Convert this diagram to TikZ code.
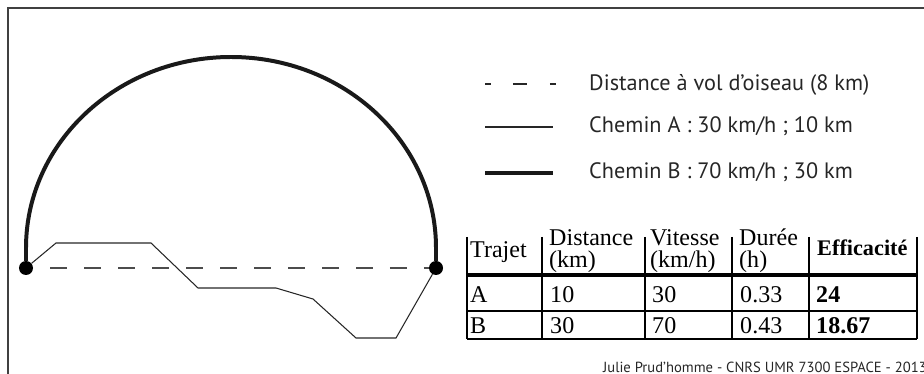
\documentclass[tikz,border=0pt]{standalone}
\usepackage{fontspec}
\setmainfont{Liberation Serif}
\setsansfont{PT Sans}
\begin{document}
\begin{tikzpicture}[x=0.03cm,y=-0.03cm,
  cadre/.style={draw=black!75,line width=0.9pt},
  arret/.style={circle,fill=black,inner sep=0pt,minimum size=0.42cm},
  volo/.style={draw=black!70,line width=1.9pt,dash pattern=on 14.5pt off 14.5pt,dash phase=14.5pt},
  cheminA/.style={draw=black!85,line width=0.9pt},
  cheminB/.style={draw=black!90,line width=3.4pt},
  legende/.style={anchor=base west,inner sep=0pt,text=black!85,font=\sffamily\fontsize{19}{20}\selectfont},
  cellule/.style={anchor=base west,inner sep=0pt,font=\fontsize{20.5}{22}\selectfont},
  grille/.style={draw=black,line width=0.9pt}
]
\useasboundingbox (0,0) rectangle (924,374);

\draw[cadre] (8,380) -- (8,8) -- (930,8);

\node[arret] (dep) at (26,268) {};
\node[arret] (arr) at (436,268) {};
\coordinate (gB) at (26,248);
\coordinate (dB) at (436,248);

\draw[volo] (dep) -- (arr);
\draw[cheminA] (dep) -- (56,243) -- (151,243) -- (198,288) -- (276,288) -- (313,299) -- (356,338) -- (396,338) -- (arr);
\draw[cheminB] (dep) -- (gB) arc[start angle=180,end angle=360,x radius=205,y radius=191] -- (arr);

\coordinate (v1) at (485,84);
\coordinate (v2) at (556,84);
\coordinate (a1) at (485,127);
\coordinate (a2) at (553,127);
\coordinate (b1) at (485,173);
\coordinate (b2) at (553,173);
\draw[draw=black!85,line width=1.2pt,dash pattern=on 5.1pt off 18.7pt on 11.9pt off 19.6pt on 5.1pt off 60pt] (v1) -- (v2);
\draw[cheminA] (a1) -- (a2);
\draw[cheminB] (b1) -- (b2);
\node[legende] (legv) at (589,91) {Distance à vol d’oiseau (8 km)};
\node[legende] (lega) at (589,133) {Chemin A : 30 km/h ; 10 km};
\node[legende] (legb) at (589,179) {Chemin B : 70 km/h ; 30 km};

\draw[grille] (467,237) -- (467,339);
\draw[grille] (542,237) -- (542,339);
\draw[grille] (645,237) -- (645,339);
\draw[grille] (732,237) -- (732,339);
\draw[grille] (809,237) -- (809,339);
\draw[grille] (917,237) -- (917,339);
\draw[grille,line width=2.6pt] (467,275) -- (917,275);
\draw[grille] (467,311) -- (917,311);
\draw[grille] (467,339) -- (917,339);

\node[cellule] (h1) at (470,258) {Trajet};
\node[cellule] (h2) at (549,246) {Distance};
\node[cellule] (h2b) at (549,268) {(km)};
\node[cellule] (h3) at (650,246) {Vitesse};
\node[cellule] (h3b) at (650,268) {(km/h)};
\node[cellule] (h4) at (739,246) {Durée};
\node[cellule] (h4b) at (739,268) {(h)};
\node[cellule,font=\fontsize{19}{22}\selectfont\bfseries] (h5) at (817,256) {Efficacité};

\node[cellule] (a11) at (470,303) {A};
\node[cellule] (a12) at (550,303) {10};
\node[cellule] (a13) at (652,303) {30};
\node[cellule] (a14) at (740,303) {0.33};
\node[cellule] (a15) at (816,303) {\bfseries 24};

\node[cellule] (b11) at (470,333) {B};
\node[cellule] (b12) at (550,333) {30};
\node[cellule] (b13) at (652,333) {70};
\node[cellule] (b14) at (740,333) {0.43};
\node[cellule] (b15) at (816,333) {\bfseries 18.67};

\node[anchor=east,inner sep=0pt,text=black!85,font=\sffamily\fontsize{12.5}{14}\selectfont] (credit) at (927,367) {Julie Prud’homme - CNRS UMR 7300 ESPACE - 2013};
\end{tikzpicture}
\end{document}
